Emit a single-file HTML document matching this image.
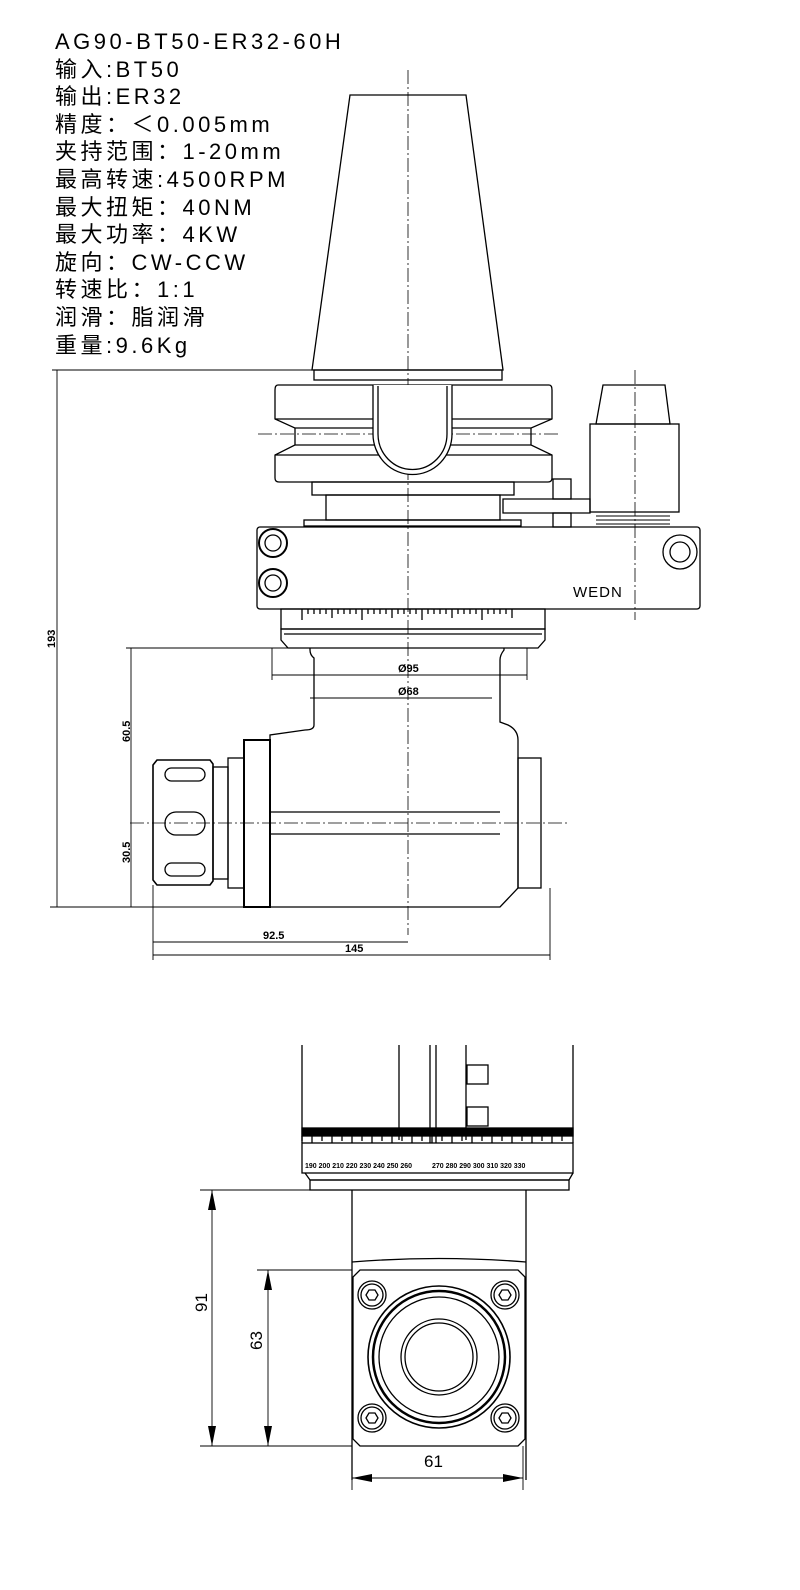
<!DOCTYPE html>
<html><head><meta charset="utf-8"><style>
body{margin:0;background:#fff;width:800px;height:1590px;overflow:hidden}
.t{position:absolute;left:55px;font-family:"Liberation Sans","Noto Sans CJK SC",sans-serif;font-size:22px;letter-spacing:3.5px;color:#000;line-height:28px}
</style></head><body>
<div class="t" style="top:28px;line-height:27.6px">AG90-BT50-ER32-60H<br>输入:BT50<br>输出:ER32<br>精度：＜0.005mm<br>夹持范围：1-20mm<br>最高转速:4500RPM<br>最大扭矩：40NM<br>最大功率：4KW<br>旋向：CW-CCW<br>转速比：1:1<br>润滑：脂润滑<br>重量:9.6Kg</div>
<svg width="800" height="1590" style="position:absolute;left:0;top:0" fill="none" stroke="#000" stroke-width="1.3" font-family="Liberation Sans,sans-serif">
<g stroke-dasharray="14,3,2,3" stroke-width="0.8">
<line x1="408" y1="70" x2="408" y2="935"/>
<line x1="130" y1="823" x2="567" y2="823"/>
<line x1="258" y1="434" x2="560" y2="434"/>
<line x1="635" y1="370" x2="635" y2="620"/>
</g>
<path d="M350 95 L466 95 L503 370 L312 370 Z"/>
<rect x="314" y="370" width="188" height="10"/>
<path d="M278 385 H549 Q552 385 552 390 V419 L531 428 V445 L552 455 V478 Q552 482 548 482 H279 Q275 482 275 478 V455 L295 445 V428 L275 419 V390 Q275 385 278 385Z"/>
<line x1="275" y1="419" x2="552" y2="419"/><line x1="275" y1="455" x2="552" y2="455"/>
<line x1="295" y1="428" x2="531" y2="428"/><line x1="295" y1="445" x2="531" y2="445"/>
<path d="M373 385 V434 A39 40 0 0 0 452 434 V385" fill="#fff"/>
<path d="M378 386 V434 A34 35 0 0 0 447 434 V386"/>
<rect x="312" y="482" width="202" height="13"/>
<rect x="326" y="495" width="174" height="25"/>
<rect x="304" y="520" width="217" height="6"/>
<path d="M603 385 H665 L670 424 H596 Z"/>
<rect x="590" y="424" width="89" height="88"/>
<path d="M503 499 H590 V513 H503 Z"/>
<rect x="553" y="479" width="18" height="20"/><rect x="553" y="513" width="18" height="14"/>
<path d="M596 516 H670 M596 520 H670 M596 524 H670" stroke-width="1"/>
<rect x="257" y="527" width="443" height="82" rx="3"/>
<g>
<circle cx="273" cy="543" r="14" stroke-width="2"/><circle cx="273" cy="543" r="8"/>
<circle cx="273" cy="583" r="14" stroke-width="2"/><circle cx="273" cy="583" r="8"/>
<circle cx="680" cy="552" r="17"/><circle cx="680" cy="552" r="10"/>
</g>
<text x="573" y="597" font-size="15" fill="#000" stroke="none" letter-spacing="1">WEDN</text>
<rect x="281" y="609" width="264" height="20"/>
<path d="M302 609 V620 M308 609 V614 M314 609 V614 M320 609 V614 M326 609 V614 M332 609 V618 M338 609 V614 M344 609 V614 M350 609 V614 M356 609 V614 M362 609 V620 M368 609 V614 M374 609 V614 M380 609 V614 M386 609 V614 M392 609 V618 M398 609 V614 M404 609 V614 M410 609 V614 M416 609 V614 M422 609 V620 M428 609 V614 M434 609 V614 M440 609 V614 M446 609 V614 M452 609 V618 M458 609 V614 M464 609 V614 M470 609 V614 M476 609 V614 M482 609 V620 M488 609 V614 M494 609 V614 M500 609 V614 M506 609 V614 M512 609 V618"/>
<path d="M281 629 H545 V640 L538 648 H288 L281 640 Z"/>
<line x1="284" y1="634" x2="542" y2="634"/>
<path d="M310 648 V650 Q310 655 314 658 V725 Q314 730 305 730 L270 735 V907 H500 L518 888 V740 Q518 730 508 725 L500 722 V660 Q500 655 504 650 V648"/>
<line x1="270" y1="812" x2="500" y2="812"/><line x1="270" y1="834" x2="500" y2="834"/>
<rect x="518" y="758" width="23" height="130"/>
<rect x="244" y="740" width="26" height="167" stroke-width="2"/>
<rect x="228" y="758" width="16" height="130"/>
<rect x="213" y="767" width="15" height="112"/>
<path d="M157 760 H210 L213 764 V881 L210 885 H157 L153 880 V765 Z" stroke-width="1.6"/>
<rect x="165" y="768" width="40" height="13" rx="6.5"/>
<rect x="165" y="812" width="40" height="23" rx="11"/>
<rect x="165" y="863" width="40" height="13" rx="6.5"/>
<g stroke-width="0.9">
<line x1="52" y1="370" x2="312" y2="370"/>
<line x1="57" y1="370" x2="57" y2="907"/>
<line x1="50" y1="907" x2="270" y2="907"/>
<line x1="126" y1="648" x2="310" y2="648"/>
<line x1="131" y1="648" x2="131" y2="907"/>
<line x1="272" y1="648" x2="272" y2="680"/><line x1="527" y1="648" x2="527" y2="680"/>
<line x1="272" y1="675" x2="527" y2="675"/>
<line x1="310" y1="698" x2="492" y2="698"/>
<line x1="153" y1="885" x2="153" y2="960"/><line x1="550" y1="888" x2="550" y2="960"/>
<line x1="153" y1="942" x2="408" y2="942"/>
<line x1="153" y1="955" x2="550" y2="955"/>
</g>
<g fill="#000" stroke="none" font-family="Liberation Sans Narrow,Liberation Sans,sans-serif" font-size="11" font-weight="bold">
<text x="398" y="672">Ø95</text><text x="398" y="695">Ø68</text>
<text x="263" y="939">92.5</text><text x="345" y="952">145</text>
<text transform="translate(55,648) rotate(-90)">193</text>
<text transform="translate(130,742) rotate(-90)">60.5</text>
<text transform="translate(130,863) rotate(-90)">30.5</text>
</g>
<path d="M302 1045 V1143 M573 1045 V1143 M399 1045 V1140 M430 1045 V1143 M436 1045 V1143 M466 1045 V1140"/>
<rect x="467" y="1065" width="21" height="19"/><rect x="467" y="1107" width="21" height="19"/>
<rect x="302" y="1143" width="271" height="30"/>
<rect x="302" y="1128" width="271" height="8" fill="#000"/>
<path d="M302 1136 V1141 M312 1136 V1143 M322 1136 V1141 M332 1136 V1143 M342 1136 V1141 M352 1136 V1143 M362 1136 V1141 M372 1136 V1143 M382 1136 V1141 M392 1136 V1143 M402 1136 V1141 M412 1136 V1143 M422 1136 V1141 M432 1136 V1143 M442 1136 V1141 M452 1136 V1143 M462 1136 V1141 M472 1136 V1143 M482 1136 V1141 M492 1136 V1143 M502 1136 V1141 M512 1136 V1143 M522 1136 V1141 M532 1136 V1143 M542 1136 V1141 M552 1136 V1143 M562 1136 V1141"/>
<g fill="#000" stroke="none" font-size="7" font-weight="bold">
<text x="305" y="1168">190 200 210 220 230 240 250 260</text>
<text x="432" y="1168">270 280 290 300 310 320 330</text>
</g>
<path d="M305 1173 L310 1180 H569 L573 1173"/>
<rect x="310" y="1180" width="259" height="10"/>
<path d="M352 1190 V1480 M526 1190 V1480"/>
<path d="M352 1262 Q439 1255 526 1262"/>
<path d="M360 1270 H518 L525 1277 V1439 L518 1446 H360 L353 1439 V1277 Z"/>
<g>
<circle cx="372" cy="1295" r="14"/><circle cx="372" cy="1295" r="11"/><path d="M366 1295 L369 1290 H375 L378 1295 L375 1300 H369 Z"/>
<circle cx="505" cy="1295" r="14"/><circle cx="505" cy="1295" r="11"/><path d="M499 1295 L502 1290 H508 L511 1295 L508 1300 H502 Z"/>
<circle cx="372" cy="1418" r="14"/><circle cx="372" cy="1418" r="11"/><path d="M366 1418 L369 1413 H375 L378 1418 L375 1423 H369 Z"/>
<circle cx="505" cy="1418" r="14"/><circle cx="505" cy="1418" r="11"/><path d="M499 1418 L502 1413 H508 L511 1418 L508 1423 H502 Z"/>
</g>
<circle cx="439" cy="1357" r="71" stroke-width="1.6"/>
<circle cx="439" cy="1357" r="66" stroke-width="2.5"/>
<circle cx="439" cy="1357" r="60"/>
<circle cx="439" cy="1357" r="38"/><circle cx="439" cy="1357" r="34"/>
<g stroke-width="0.9">
<line x1="200" y1="1190" x2="352" y2="1190"/>
<line x1="257" y1="1270" x2="352" y2="1270"/>
<line x1="200" y1="1446" x2="352" y2="1446"/>
<line x1="212" y1="1190" x2="212" y2="1446"/>
<line x1="268" y1="1270" x2="268" y2="1446"/>
<line x1="352" y1="1446" x2="352" y2="1490"/><line x1="523" y1="1446" x2="523" y2="1490"/>
<line x1="352" y1="1478" x2="523" y2="1478"/>
</g>
<g fill="#000" stroke="none">
<path d="M212 1190 L208 1210 L216 1210Z"/><path d="M212 1446 L208 1426 L216 1426Z"/>
<path d="M268 1270 L264 1290 L272 1290Z"/><path d="M268 1446 L264 1426 L272 1426Z"/>
<path d="M352 1478 L372 1474 L372 1482Z"/><path d="M523 1478 L503 1474 L503 1482Z"/>
<text transform="translate(207,1312) rotate(-90)" font-family="Liberation Sans Narrow,Liberation Sans,sans-serif" font-size="17">91</text>
<text transform="translate(262,1350) rotate(-90)" font-family="Liberation Sans Narrow,Liberation Sans,sans-serif" font-size="17">63</text>
<text x="424" y="1467" font-family="Liberation Sans Narrow,Liberation Sans,sans-serif" font-size="17">61</text>
</g>
</svg>
</body></html>
